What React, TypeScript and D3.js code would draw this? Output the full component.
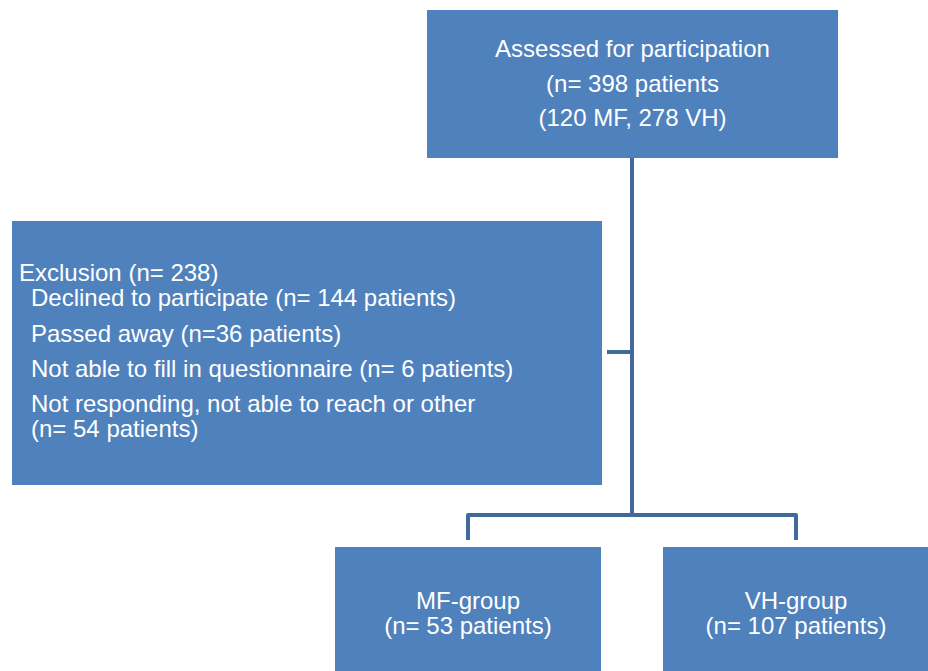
import React from 'react';
import * as d3 from 'd3';

// box texts
const topLines = ['Assessed for participation', '(n= 398 patients', '(120 MF, 278 VH)'];
const exclusionTitle = 'Exclusion (n= 238)';
const exclusionItems = [
  'Declined to participate (n= 144 patients)',
  'Passed away (n=36 patients)',
  'Not able to fill in questionnaire (n= 6 patients)',
  'Not responding, not able to reach or other',
  '(n= 54 patients)',
];
const groupNames = ['MF-group', 'VH-group'];
const groupCounts = ['(n= 53 patients)', '(n= 107 patients)'];

const W = 928;
const H = 671;
const FILL = '#4f81bd';
const LINE = '#41699a';

const App = () => {
  const boxes = {
    top: { x: 427, y: 10, w: 411, h: 148 },
    left: { x: 12, y: 221, w: 590, h: 264 },
    mf: { x: 335, y: 547, w: 266, h: 130 },
    vh: { x: 663, y: 547, w: 266, h: 130 },
  };
  const trunkX = 632;
  const branchY = 515;
  const midY = 352;
  const mfCx = boxes.mf.x + boxes.mf.w / 2;
  const vhCx = boxes.vh.x + boxes.vh.w / 2;

  const line = d3.line<[number, number]>();
  const connectors: [number, number][][] = [
    [[trunkX, boxes.top.y + boxes.top.h], [trunkX, branchY]],
    [[boxes.left.x + boxes.left.w + 5, midY], [trunkX, midY]],
    [[mfCx, boxes.mf.y - 7], [mfCx, branchY], [vhCx, branchY], [vhCx, boxes.vh.y - 7]],
  ];

  const topCx = boxes.top.x + boxes.top.w / 2;
  const font = '"Liberation Sans", Arial, sans-serif';

  const titleY = 281;
  const rowYs = [306, 342, 377, 412, 437];

  return (
    <svg width={W} height={H} style={{ position: 'absolute', left: 0, top: 0, background: '#fff' }}>
      {Object.values(boxes).map((b, i) => (
        <rect key={i} x={b.x} y={b.y} width={b.w} height={b.h} fill={FILL} />
      ))}
      {connectors.map((c, i) => (
        <path key={i} d={line(c) || ''} fill="none" stroke={LINE} strokeWidth={4} strokeLinejoin="round" />
      ))}
      <g fill="#fff" fontFamily={font} fontSize={24} textAnchor="middle">
        {topLines.map((t, i) => (
          <text key={i} x={topCx} y={57 + i * 34.5}>{t}</text>
        ))}
        {groupNames.map((g, i) => (
          <text key={g} x={i === 0 ? mfCx : vhCx} y={609}>{g}</text>
        ))}
        {groupCounts.map((g, i) => (
          <text key={g} x={i === 0 ? mfCx : vhCx} y={634}>{g}</text>
        ))}
      </g>
      <g fill="#fff" fontFamily={font} fontSize={24}>
        <text x={19} y={titleY}>{exclusionTitle}</text>
        {exclusionItems.map((t, i) => (
          <text key={i} x={31} y={rowYs[i]}>{t}</text>
        ))}
      </g>
    </svg>
  );
};

export default App;
